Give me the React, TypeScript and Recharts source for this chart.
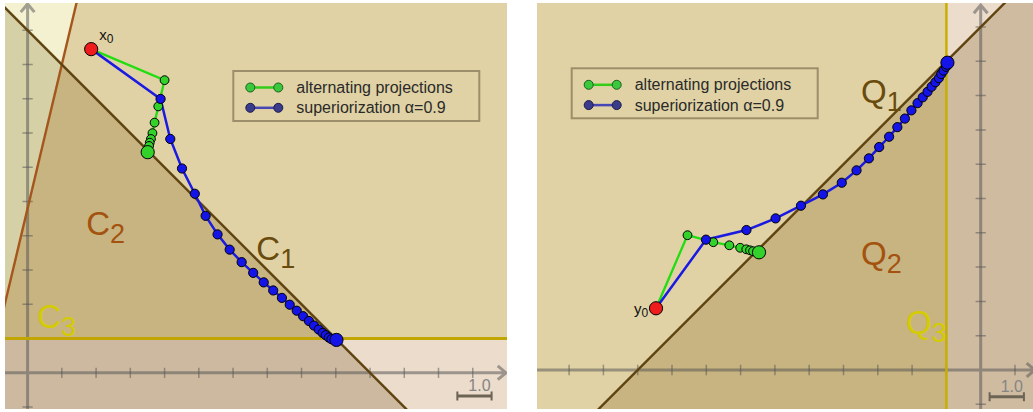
import React from 'react';
import { ComposedChart, XAxis, YAxis, Line, Area, Scatter } from 'recharts';

// ---------------- LEFT PANEL (sets C1, C2, C3) ----------------
const leftXDomain: [number, number] = [-0.66, 14.0];
const leftYDomain: [number, number] = [-1.057, 10.797];
const leftXTicks = [1, 2, 3, 4, 5, 6, 7, 8, 9, 10, 11, 12, 13];
const leftYTicks = [-1, 1, 2, 3, 4, 5, 6, 7, 8, 9, 10];

// half-plane boundaries: y = slope * x + intercept
const c1 = { slope: -1, intercept: 10 };
const c2 = { slope: 4.2, intercept: 4.8 };
const c3Level = 1;

const leftStart = [{ x: 1.857, y: 9.45 }];
const leftAlternating = [
  { x: 4.0, y: 8.544 }, { x: 3.816, y: 7.778 }, { x: 3.708, y: 7.304 }, { x: 3.646, y: 6.997 },
  { x: 3.602, y: 6.827 }, { x: 3.567, y: 6.719 }, { x: 3.547, y: 6.623 }, { x: 3.507, y: 6.441 },
];
const leftSuperiorization = [
  { x: 3.883, y: 7.997 }, { x: 4.167, y: 6.827 }, { x: 4.509, y: 5.965 }, { x: 4.883, y: 5.228 },
  { x: 5.199, y: 4.582 }, { x: 5.547, y: 4.041 }, { x: 5.901, y: 3.596 }, { x: 6.251, y: 3.231 },
  { x: 6.588, y: 2.918 }, { x: 6.895, y: 2.640 }, { x: 7.173, y: 2.404 }, { x: 7.427, y: 2.187 },
  { x: 7.655, y: 1.988 }, { x: 7.860, y: 1.813 }, { x: 8.047, y: 1.652 }, { x: 8.216, y: 1.512 },
  { x: 8.363, y: 1.380 }, { x: 8.500, y: 1.263 }, { x: 8.617, y: 1.164 }, { x: 8.708, y: 1.096 },
  { x: 8.795, y: 1.029 }, { x: 8.874, y: 0.980 }, { x: 9.02, y: 0.96 },
];
const leftLabels = [
  { x: 6.68, y: 3.29, name: 'C', sub: '1' },
  { x: 1.71, y: 4.02, name: 'C', sub: '2' },
  { x: 0.28, y: 1.30, name: 'C', sub: '3' },
];
const leftStartLabel = [{ x: 2.09, y: 9.72, name: 'x', sub: '0' }];
const leftScaleBar = { from: 12.55, to: 13.55, at: -0.677 };

// ---------------- RIGHT PANEL (sets Q1, Q2, Q3) ----------------
const rightXDomain: [number, number] = [-12.936, 1.525];
const rightYDomain: [number, number] = [-1.137, 10.7];
const rightXTicks = [-12, -11, -10, -9, -8, -7, -6, -5, -4, -3, -2, -1, 1];
const rightYTicks = [-1, 1, 2, 3, 4, 5, 6, 7, 8, 9, 10];

const q1 = { slope: 1, intercept: 10 };
const q3At = -1;

const rightStart = [{ x: -9.466, y: 1.799 }];
const rightAlternating = [
  { x: -8.548, y: 3.93 }, { x: -7.796, y: 3.726 }, { x: -7.329, y: 3.636 }, { x: -7.012, y: 3.563 },
  { x: -6.834, y: 3.519 }, { x: -6.726, y: 3.49 }, { x: -6.638, y: 3.464 }, { x: -6.463, y: 3.431 },
];
const rightSuperiorization = [
  { x: -8.01, y: 3.80 }, { x: -6.83, y: 4.08 }, { x: -5.98, y: 4.42 }, { x: -5.24, y: 4.79 },
  { x: -4.60, y: 5.12 }, { x: -4.05, y: 5.46 }, { x: -3.62, y: 5.82 }, { x: -3.26, y: 6.17 },
  { x: -2.96, y: 6.50 }, { x: -2.67, y: 6.80 }, { x: -2.43, y: 7.08 }, { x: -2.21, y: 7.33 },
  { x: -2.02, y: 7.57 }, { x: -1.84, y: 7.78 }, { x: -1.69, y: 7.95 }, { x: -1.55, y: 8.11 },
  { x: -1.43, y: 8.26 }, { x: -1.32, y: 8.39 }, { x: -1.22, y: 8.51 }, { x: -1.15, y: 8.63 },
  { x: -1.08, y: 8.73 }, { x: -1.01, y: 8.84 }, { x: -0.97, y: 8.96 },
];
const rightLabels = [
  { x: -3.49, y: 7.78, name: 'Q', sub: '1' },
  { x: -3.49, y: 3.06, name: 'Q', sub: '2' },
  { x: -2.18, y: 1.05, name: 'Q', sub: '3' },
];
const rightStartLabel = [{ x: -10.11, y: 1.63, name: 'y', sub: '0' }];
const rightScaleBar = { from: 0.26, to: 1.26, at: -0.78 };

const legendNames = ['alternating projections', 'superiorization α=0.9'];

// ---------------- styles ----------------
const FONT = 'Liberation Sans, Arial, Helvetica, sans-serif';
const BG = '#e0d2a4';
const labelColors = ['#6a4b0e', '#a3520f', '#d4cb00'];
const GREEN_LINE = '#22dd11';
const GREEN_DOT = '#33d22b';
const BLUE_LINE = '#1a1ae2';
const BLUE_DOT = '#1414e8';
const RED_DOT = '#ee1c1c';
const AXIS = '#555555';

// ---------------- geometry helpers (from the boundary definitions) ----------------
const lineY = (l: { slope: number; intercept: number }, x: number) => l.slope * x + l.intercept;
const lineX = (l: { slope: number; intercept: number }, y: number) => (y - l.intercept) / l.slope;
const intersect = (a: any, b: any) => {
  const x = (b.intercept - a.intercept) / (a.slope - b.slope);
  return { x, y: lineY(a, x) };
};

function leftRegions() {
  const [xl, xr] = leftXDomain;
  const [yb, yt] = leftYDomain;
  const p = intersect(c1, c2);
  const c2Top = lineX(c2, yt);
  const c2Left = lineY(c2, xl);
  const c1Left = lineY(c1, xl);
  const c1c3 = lineX(c1, c3Level);
  const c1Bottom = lineX(c1, yb);
  return [
    { fill: '#f4f1d1', data: [{ x: xl, r: [c1Left, yt] }, { x: p.x, r: [p.y, yt] }, { x: c2Top, r: [yt, yt] }] },
    { fill: '#d6d0a7', data: [{ x: xl, r: [c2Left, c1Left] }, { x: p.x, r: [p.y, p.y] }] },
    { fill: '#c8b480', data: [{ x: xl, r: [c3Level, c2Left] }, { x: p.x, r: [c3Level, p.y] }, { x: c1c3, r: [c3Level, c3Level] }] },
    { fill: '#cdb99f', data: [{ x: xl, r: [yb, c3Level] }, { x: c1c3, r: [yb, c3Level] }, { x: c1Bottom, r: [yb, yb] }] },
    { fill: '#ecdccb', data: [{ x: c1c3, r: [c3Level, c3Level] }, { x: c1Bottom, r: [yb, c3Level] }, { x: xr, r: [yb, c3Level] }] },
  ];
}

function rightRegions() {
  const [, xr] = rightXDomain;
  const [yb, yt] = rightYDomain;
  const q1Bottom = lineX(q1, yb);
  const q1Top = lineX(q1, yt);
  const q1AtQ3 = lineY(q1, q3At);
  return [
    { fill: '#c8b480', data: [{ x: q1Bottom, r: [yb, yb] }, { x: q3At, r: [yb, q1AtQ3] }] },
    { fill: '#ecdccb', data: [{ x: q3At, r: [q1AtQ3, yt] }, { x: q1Top, r: [yt, yt] }] },
    { fill: '#cfbba0', data: [{ x: q3At, r: [yb, q1AtQ3] }, { x: q1Top, r: [yb, yt] }, { x: xr, r: [yb, yt] }] },
  ];
}

function slopedLine(l: any, dom: [number, number]) {
  return [{ x: dom[0] - 2, y: lineY(l, dom[0] - 2) }, { x: dom[1] + 2, y: lineY(l, dom[1] + 2) }];
}

function axisPath(xd: [number, number], yd: [number, number], tipX: number, tipY: number) {
  const back = 0.24;
  const wing = 0.2;
  return [
    { x: xd[0] - 1, y: 0 }, { x: tipX, y: 0 }, { x: tipX, y: null },
    { x: 0, y: yd[0] - 1 }, { x: 0, y: tipY }, { x: 0, y: null },
    { x: tipX - back, y: wing }, { x: tipX, y: 0 }, { x: tipX - back, y: -wing }, { x: tipX, y: null },
    { x: -wing, y: tipY - back }, { x: 0, y: tipY }, { x: wing, y: tipY - back },
  ];
}

function tickPath(xt: number[], yt: number[]) {
  const h = 0.15;
  const out: any[] = [];
  xt.forEach((k) => { out.push({ x: k, y: -h }, { x: k, y: h }, { x: k, y: null }); });
  yt.forEach((k) => { out.push({ x: -h, y: k }, { x: h, y: k }, { x: 0, y: null }); });
  return out;
}

const bigDot = (fill: string) => (p: any) => (
  <circle cx={p.cx} cy={p.cy} r={6.6} fill={fill} stroke="#000" strokeWidth={1} />
);

const textShape = (color: string, size: number, subSize: number, dy: number) => (p: any) => (
  <text x={p.cx} y={p.cy} fill={color} fontSize={size} fontFamily={FONT}>
    {p.payload.name}
    <tspan fontSize={subSize} dy={dy}>{p.payload.sub}</tspan>
  </text>
);

const scaleText = (p: any) => (
  <text x={p.cx - 1} y={p.cy - 4.5} fill="#858585" fontSize={16} fontFamily={FONT} textAnchor="end">1.0</text>
);

function Panel(props: any) {
  const { width, height, xDomain, yDomain, regions, bounds, tipX, tipY, xTicks, yTicks,
    start, alt, sup, labels, startLabel, bar } = props;
  const altPath = [...start, ...alt];
  const supPath = [...start, ...sup];
  const barCaps = [
    { x: bar.from, y: bar.at - 0.13 }, { x: bar.from, y: bar.at + 0.13 }, { x: bar.from, y: null },
    { x: bar.to, y: bar.at - 0.13 }, { x: bar.to, y: bar.at + 0.13 },
  ];
  return (
    <div style={{ width, height, background: BG, overflow: 'hidden' }}>
      <ComposedChart width={width} height={height} margin={{ top: 0, right: 0, bottom: 0, left: 0 }}>
        <XAxis type="number" dataKey="x" domain={xDomain} hide allowDataOverflow />
        <YAxis type="number" dataKey="y" domain={yDomain} hide allowDataOverflow />
        {regions.map((r: any, i: number) => (
          <Area key={'reg' + i} data={r.data} dataKey="r" type="linear" stroke="none" fill={r.fill}
            fillOpacity={1} isAnimationActive={false} dot={false} activeDot={false} />
        ))}
        <Line data={axisPath(xDomain, yDomain, tipX, tipY)} dataKey="y" stroke={AXIS} strokeOpacity={0.52}
          strokeWidth={3} dot={false} activeDot={false} isAnimationActive={false} connectNulls={false} />
        <Line data={tickPath(xTicks, yTicks)} dataKey="y" stroke={AXIS} strokeOpacity={0.52}
          strokeWidth={1.5} dot={false} activeDot={false} isAnimationActive={false} connectNulls={false} />
        {bounds.map((b: any, i: number) => (
          <Line key={'b' + i} data={b.data} dataKey="y" stroke={b.stroke} strokeWidth={b.width}
            dot={false} activeDot={false} isAnimationActive={false} />
        ))}
        <Line data={[{ x: bar.from, y: bar.at }, { x: bar.to, y: bar.at }]} dataKey="y" stroke="#6d6456"
          strokeWidth={3} dot={false} activeDot={false} isAnimationActive={false} />
        <Line data={barCaps} dataKey="y" stroke="#6d6456" strokeWidth={2} dot={false} activeDot={false}
          isAnimationActive={false} connectNulls={false} />
        <Line data={altPath} dataKey="y" stroke={GREEN_LINE} strokeWidth={2.3} isAnimationActive={false}
          activeDot={false} dot={{ r: 4.4, fill: GREEN_DOT, stroke: '#000', strokeWidth: 1 }} />
        <Line data={supPath} dataKey="y" stroke={BLUE_LINE} strokeWidth={2.5} isAnimationActive={false}
          activeDot={false} dot={{ r: 4.6, fill: BLUE_DOT, stroke: '#000', strokeWidth: 1 }} />
        <Scatter data={[alt[alt.length - 1]]} shape={bigDot(GREEN_DOT)} isAnimationActive={false} />
        <Scatter data={[sup[sup.length - 1]]} shape={bigDot(BLUE_DOT)} isAnimationActive={false} />
        <Scatter data={start} shape={bigDot(RED_DOT)} isAnimationActive={false} />
        {labels.map((l: any, i: number) => (
          <Scatter key={'lab' + i} data={[l]} shape={textShape(labelColors[i], 33, 27, 8)} isAnimationActive={false} />
        ))}
        <Scatter data={startLabel} shape={textShape('#111', 15, 12, 3)} isAnimationActive={false} />
        <Scatter data={[{ x: bar.to, y: bar.at }]} shape={scaleText} isAnimationActive={false} />
      </ComposedChart>
    </div>
  );
}

function LegendBox({ left, top }: { left: number; top: number }) {
  const rows = [
    { y: top + 16.5, line: '#33cc1a', dot: '#3cc83c', edge: '#1f5f1f' },
    { y: top + 36.8, line: '#4646b4', dot: '#3b3b8c', edge: '#1c1c4a' },
  ];
  return (
    <g>
      <rect x={left} y={top} width={246} height={50} fill="none" stroke="#9d8e6b" strokeWidth={2} />
      {rows.map((r, i) => (
        <g key={i}>
          <line x1={left + 17} y1={r.y} x2={left + 45} y2={r.y} stroke={r.line} strokeWidth={2.5} />
          <circle cx={left + 17} cy={r.y} r={4.5} fill={r.dot} stroke={r.edge} strokeWidth={1} />
          <circle cx={left + 45} cy={r.y} r={4.5} fill={r.dot} stroke={r.edge} strokeWidth={1} />
          <text x={left + 63} y={r.y + 5.6} fontSize={16} fontFamily={FONT} fill="#2a2a2a">{legendNames[i]}</text>
        </g>
      ))}
    </g>
  );
}

export default function App() {
  return (
    <div style={{ position: 'absolute', left: 0, top: 0, width: 1033, height: 412, background: '#fff', overflow: 'hidden' }}>
      <div style={{ position: 'absolute', left: 5, top: 3 }}>
        <Panel
          width={502} height={406} xDomain={leftXDomain} yDomain={leftYDomain}
          regions={leftRegions()}
          bounds={[
            { data: [{ x: leftXDomain[0] - 2, y: c3Level }, { x: leftXDomain[1] + 2, y: c3Level }], stroke: '#c2a600', width: 3 },
            { data: slopedLine(c2, leftXDomain), stroke: '#a4561c', width: 2.4 },
            { data: slopedLine(c1, leftXDomain), stroke: '#5f4310', width: 2.4 },
          ]}
          tipX={13.97} tipY={10.77} xTicks={leftXTicks} yTicks={leftYTicks}
          start={leftStart} alt={leftAlternating} sup={leftSuperiorization}
          labels={leftLabels} startLabel={leftStartLabel} bar={leftScaleBar}
        />
      </div>
      <div style={{ position: 'absolute', left: 537, top: 3 }}>
        <Panel
          width={496} height={406} xDomain={rightXDomain} yDomain={rightYDomain}
          regions={rightRegions()}
          bounds={[
            { data: [{ x: q3At, y: rightYDomain[0] - 2 }, { x: q3At, y: rightYDomain[1] + 2 }], stroke: '#c8ae00', width: 2.5 },
            { data: slopedLine(q1, rightXDomain), stroke: '#5f4310', width: 2.4 },
          ]}
          tipX={1.58} tipY={10.64} xTicks={rightXTicks} yTicks={rightYTicks}
          start={rightStart} alt={rightAlternating} sup={rightSuperiorization}
          labels={rightLabels} startLabel={rightStartLabel} bar={rightScaleBar}
        />
      </div>
      <svg width={1033} height={412} style={{ position: 'absolute', left: 0, top: 0, pointerEvents: 'none' }}>
        <LegendBox left={233.3} top={71} />
        <LegendBox left={571.7} top={68.3} />
      </svg>
    </div>
  );
}
